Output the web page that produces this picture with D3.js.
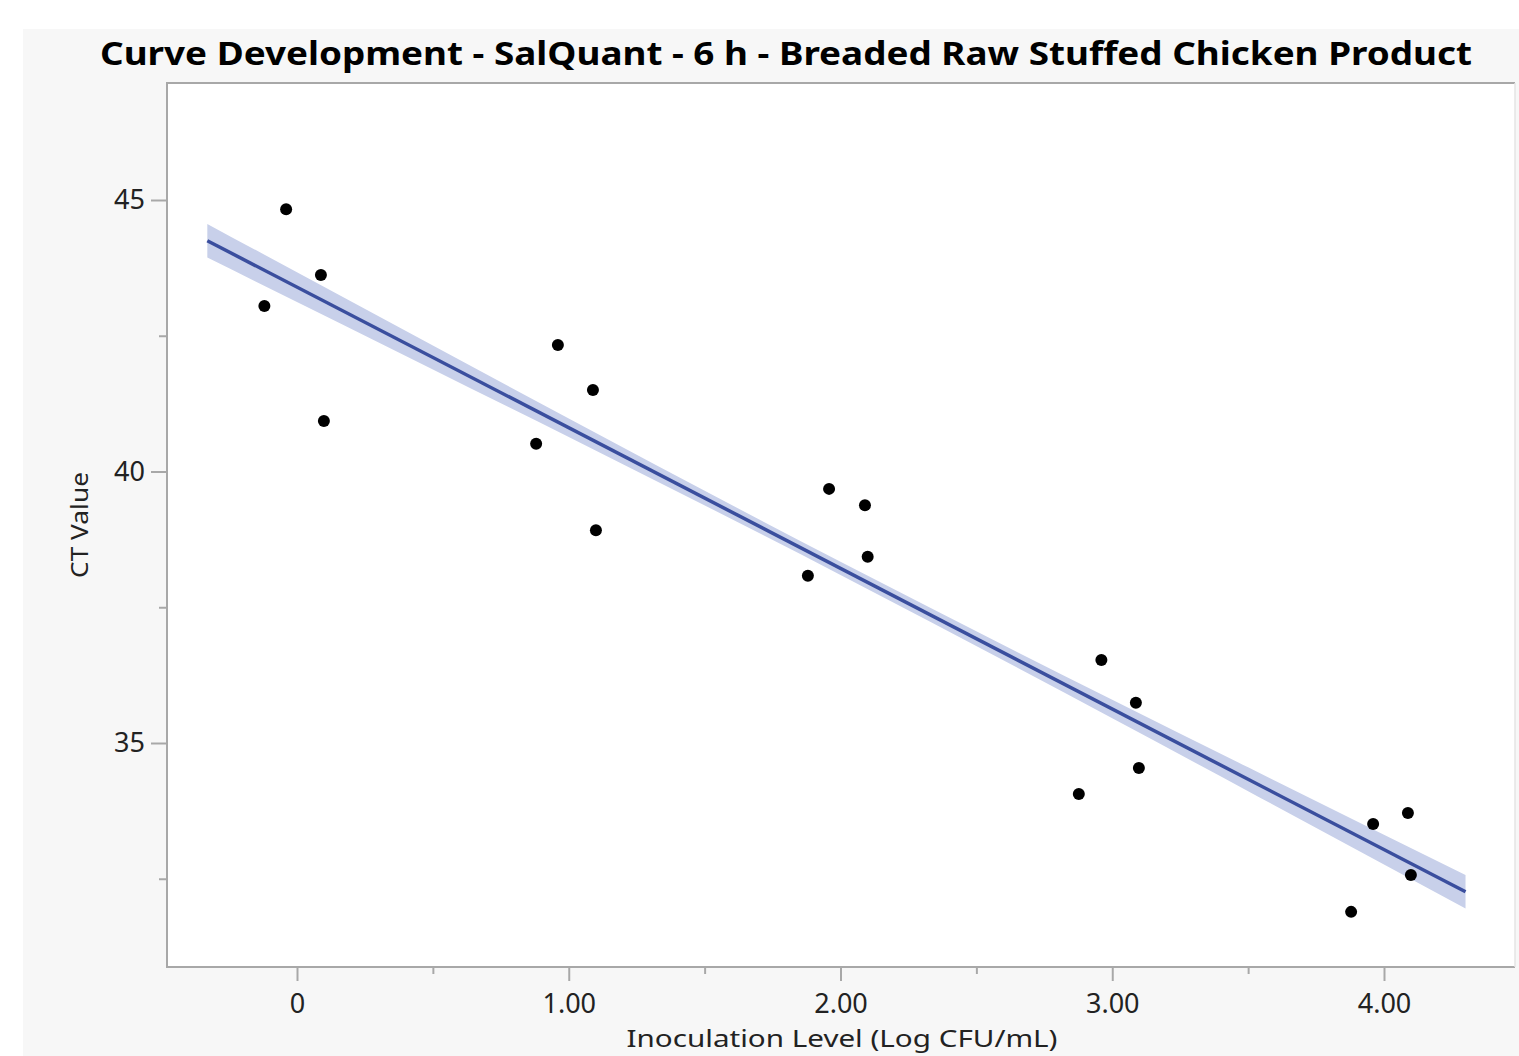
<!DOCTYPE html>
<html>
<head>
<meta charset="utf-8">
<script src="https://cdn.jsdelivr.net/npm/d3@7"></script>
<style>
  html, body { margin: 0; padding: 0; background: #ffffff; }
  svg { display: block; }
</style>
</head>
<body>
<div id="chart"></div>
<script>
// Observed points (Inoculation level, CT value)
const inoculation = [-0.04, -0.12, 0.088, 0.099, 0.96, 1.089, 0.88, 1.10,
    1.958, 2.09, 2.10, 1.88, 2.96, 3.087, 3.098, 2.877, 3.96, 4.088, 4.099, 3.879];
const ctValue = [44.83, 43.05, 43.62, 40.93, 42.33, 41.50, 40.51, 38.92,
    39.68, 39.38, 38.43, 38.08, 36.53, 35.74, 34.54, 34.06, 33.51, 33.71, 32.57, 31.89];

// Fit line ends and confidence band half-widths
const fitX = [-0.33, 4.30];
const fitY = [44.25, 32.26];
const bandX = [-0.33, 0.5, 1.0, 2.0, 3.0, 3.5, 4.30];
const bandHalf = [0.31, 0.22, 0.17, 0.12, 0.17, 0.22, 0.31];

// Axis ticks
const xMajor = [0, 1, 2, 3, 4];
const xMinor = [0.5, 1.5, 2.5, 3.5];
const yMajor = [35, 40, 45];
const yMinor = [32.5, 37.5, 42.5];

const title = "Curve Development - SalQuant - 6 h - Breaded Raw Stuffed Chicken Product";
const xTitle = "Inoculation Level (Log CFU/mL)";
const yTitle = "CT Value";

const width = 1519;
const height = 1056;
const frame = { left: 167, top: 83, right: 1515, bottom: 967 };
const font = "'Noto Sans', 'Open Sans', sans-serif";
const axisGrey = '#a8a8a8';

const svg = d3.select('#chart').append('svg')
    .attr('width', width)
    .attr('height', height);

// grey panel behind everything
svg.append('rect')
    .attr('x', 23).attr('y', 29)
    .attr('width', width - 23).attr('height', height - 29)
    .attr('fill', '#f7f7f7');

svg.append('rect')
    .attr('x', frame.left).attr('y', frame.top)
    .attr('width', frame.right - frame.left)
    .attr('height', frame.bottom - frame.top)
    .attr('fill', '#ffffff');

// scales: 0 -> 297px, 4 -> 1384px ; 45 -> 200px, 35 -> 743px
const x = d3.scaleLinear().domain([0, 4]).range([297, 1384]);
const y = d3.scaleLinear().domain([35, 45]).range([743, 200]);

// confidence band
const slope = (fitY[1] - fitY[0]) / (fitX[1] - fitX[0]);
const fitAt = v => fitY[0] + slope * (v - fitX[0]);
const bandData = bandX.map((v, i) => ({ x: v, lo: fitAt(v) - bandHalf[i], hi: fitAt(v) + bandHalf[i] }));

svg.append('path')
    .datum(bandData)
    .attr('fill', '#c8d0ea')
    .attr('d', d3.area()
        .curve(d3.curveMonotoneX)
        .x(d => x(d.x))
        .y0(d => y(d.lo))
        .y1(d => y(d.hi)));

svg.append('line')
    .attr('x1', x(fitX[0])).attr('y1', y(fitY[0]))
    .attr('x2', x(fitX[1])).attr('y2', y(fitY[1]))
    .attr('stroke', '#3a4e9e')
    .attr('stroke-width', 3.5);

// points
svg.append('g')
    .selectAll('circle')
    .data(inoculation.map((v, i) => [v, ctValue[i]]))
    .join('circle')
    .attr('cx', d => x(d[0]))
    .attr('cy', d => y(d[1]))
    .attr('r', 6)
    .attr('fill', '#000000');

// frame: left, top and bottom solid, right edge faint
svg.append('path')
    .attr('d', `M${frame.right},${frame.top}H${frame.left}V${frame.bottom}H${frame.right}`)
    .attr('fill', 'none')
    .attr('stroke', axisGrey)
    .attr('stroke-width', 2);
svg.append('line')
    .attr('x1', frame.right).attr('y1', frame.top)
    .attr('x2', frame.right).attr('y2', frame.bottom)
    .attr('stroke', '#e4e4e4')
    .attr('stroke-width', 1.5);

// x axis
const xAxis = d3.axisBottom(x)
    .tickValues(xMajor)
    .tickSize(14)
    .tickPadding(13)
    .tickFormat(d => d === 0 ? '0' : d3.format('.2f')(d));
svg.append('g')
    .attr('transform', `translate(0, ${frame.bottom})`)
    .call(xAxis)
    .call(g => g.select('.domain').remove())
    .call(g => g.selectAll('.tick line').attr('stroke', axisGrey).attr('stroke-width', 2))
    .call(g => g.selectAll('.tick text')
        .attr('font-family', font).attr('font-size', 27).attr('fill', '#222'));

svg.append('g')
    .attr('transform', `translate(0, ${frame.bottom})`)
    .call(d3.axisBottom(x).tickValues(xMinor).tickSize(7).tickFormat(''))
    .call(g => g.select('.domain').remove())
    .call(g => g.selectAll('.tick line').attr('stroke', axisGrey).attr('stroke-width', 2));

// y axis
const yAxis = d3.axisLeft(y)
    .tickValues(yMajor)
    .tickSize(16)
    .tickPadding(6);
svg.append('g')
    .attr('transform', `translate(${frame.left}, 0)`)
    .call(yAxis)
    .call(g => g.select('.domain').remove())
    .call(g => g.selectAll('.tick line').attr('stroke', axisGrey).attr('stroke-width', 2))
    .call(g => g.selectAll('.tick text')
        .attr('font-family', font).attr('font-size', 27).attr('fill', '#222'));

svg.append('g')
    .attr('transform', `translate(${frame.left}, 0)`)
    .call(d3.axisLeft(y).tickValues(yMinor).tickSize(8).tickFormat(''))
    .call(g => g.select('.domain').remove())
    .call(g => g.selectAll('.tick line').attr('stroke', axisGrey).attr('stroke-width', 2));

// titles
svg.append('text')
    .attr('x', 786).attr('y', 65)
    .attr('text-anchor', 'middle')
    .attr('font-family', font)
    .attr('font-weight', 'bold')
    .attr('font-size', 32)
    .attr('textLength', 1372)
    .attr('lengthAdjust', 'spacingAndGlyphs')
    .attr('fill', '#000')
    .text(title);

svg.append('text')
    .attr('x', 842).attr('y', 1047)
    .attr('text-anchor', 'middle')
    .attr('font-family', font)
    .attr('font-size', 24)
    .attr('textLength', 431)
    .attr('lengthAdjust', 'spacingAndGlyphs')
    .attr('fill', '#222')
    .text(xTitle);

svg.append('text')
    .attr('transform', 'translate(88, 525) rotate(-90)')
    .attr('text-anchor', 'middle')
    .attr('font-family', font)
    .attr('font-size', 23)
    .attr('textLength', 106)
    .attr('lengthAdjust', 'spacingAndGlyphs')
    .attr('fill', '#222')
    .text(yTitle);
</script>
</body>
</html>
